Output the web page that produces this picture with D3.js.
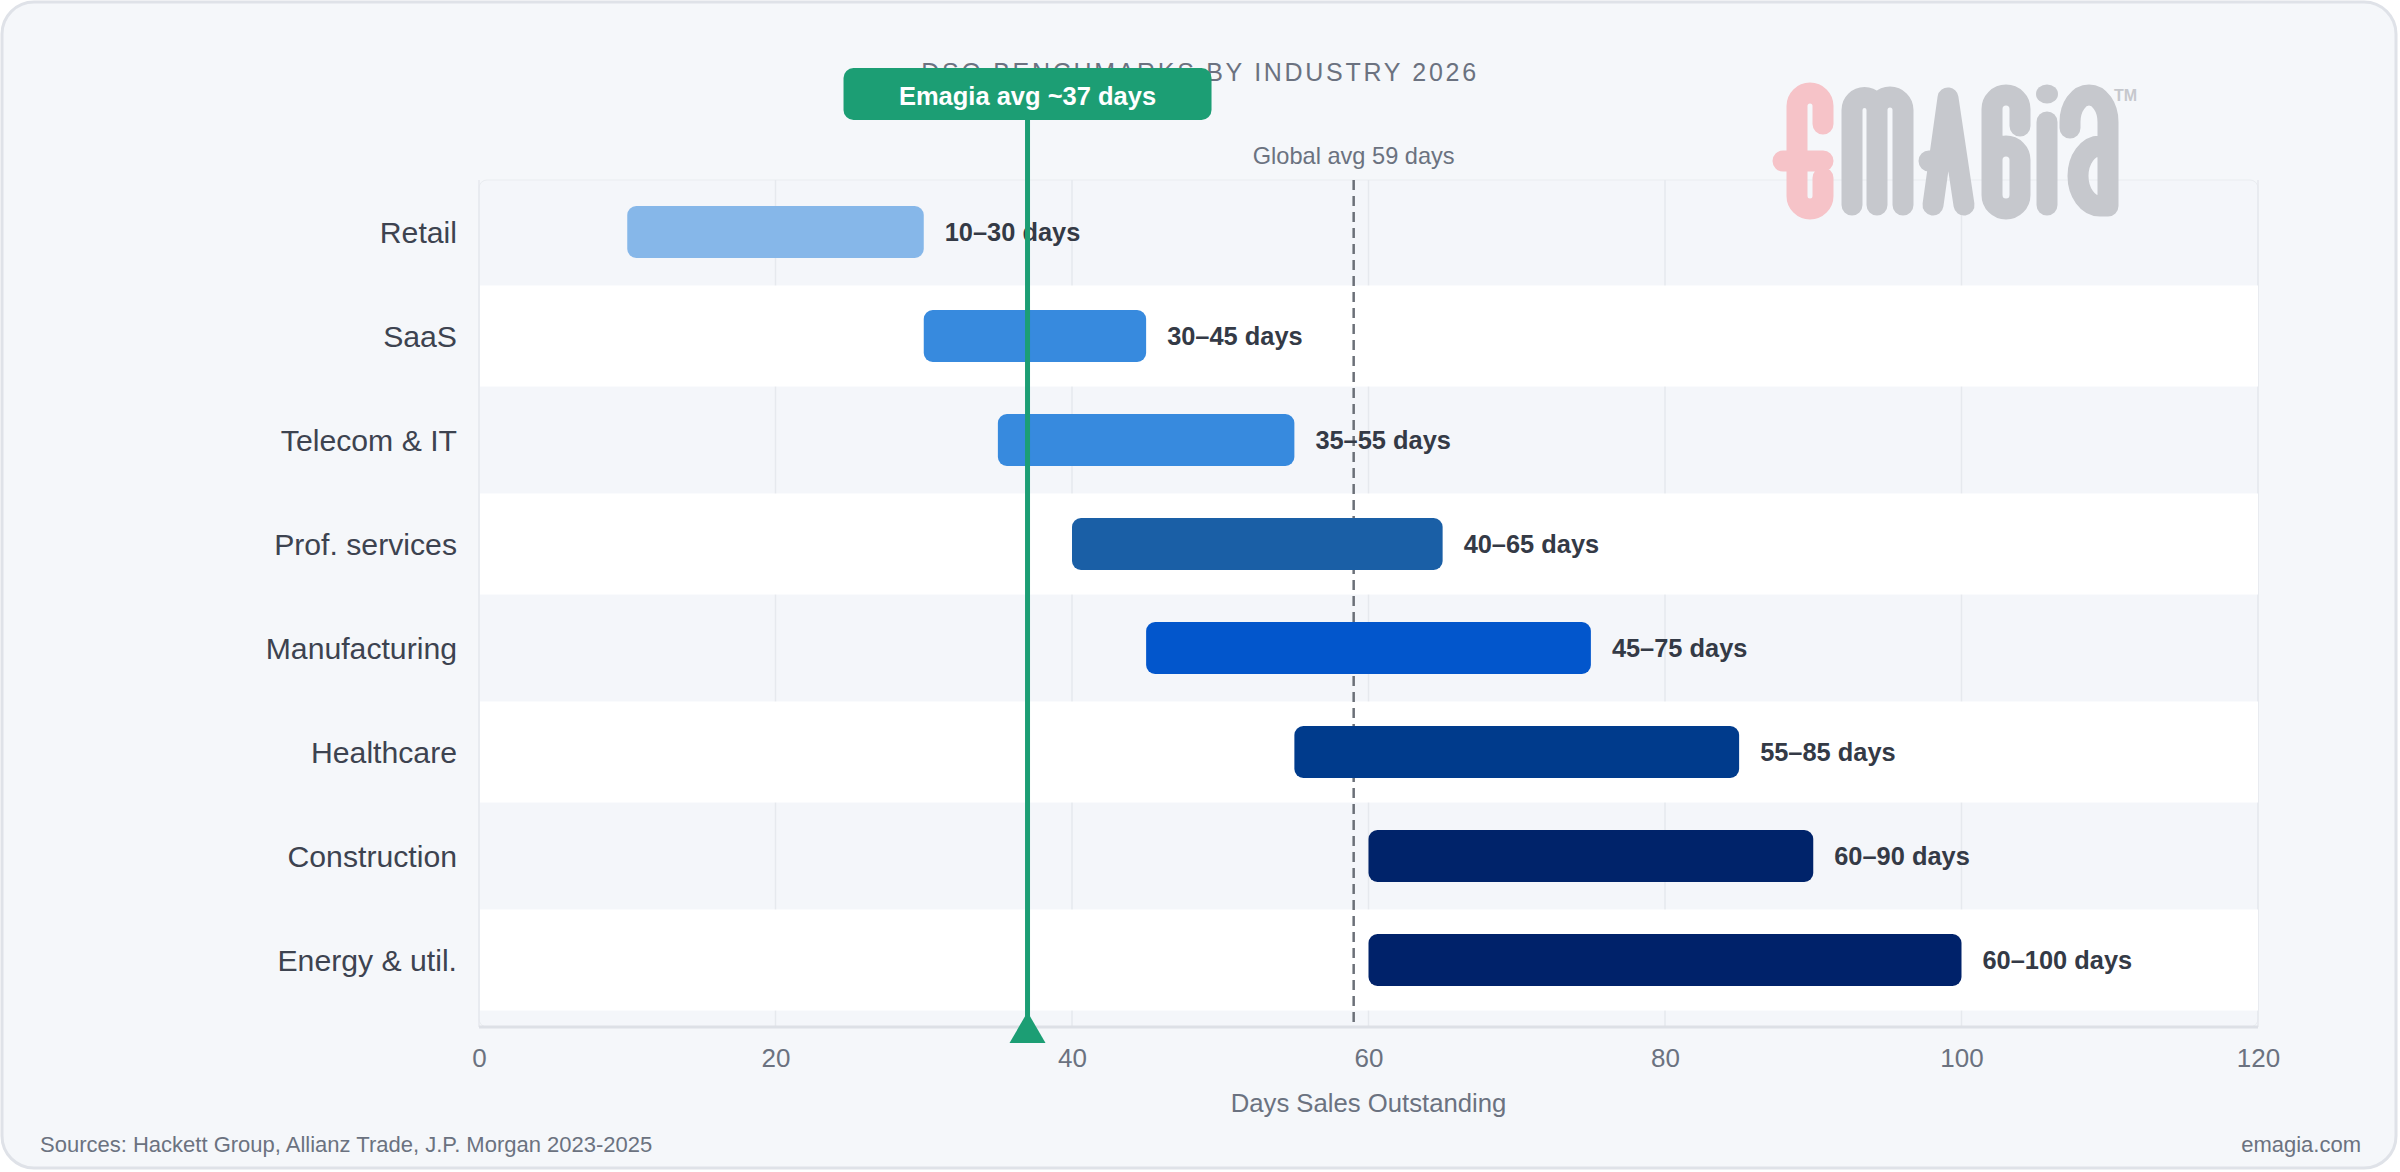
<!DOCTYPE html>
<html>
<head>
<meta charset="utf-8">
<script src="https://cdn.jsdelivr.net/npm/d3@7"></script>
<style>
  html, body { margin: 0; padding: 0; background: #ffffff; }
  svg { display: block; font-family: "Liberation Sans", Arial, sans-serif; }
</style>
</head>
<body>
<svg id="chart" width="2400" height="1172"></svg>
<script>
// ---------- data ----------
const categories = ["Retail", "SaaS", "Telecom & IT", "Prof. services", "Manufacturing", "Healthcare", "Construction", "Energy & util."];
const lowDays  = [10, 30, 35, 40, 45, 55, 60, 60];
const highDays = [30, 45, 55, 65, 75, 85, 90, 100];
const barColors = ["#86b7e9", "#378ade", "#378ade", "#1a5fa6", "#0256cc", "#003b8c", "#00236a", "#00226a"];
const xTicks = [0, 20, 40, 60, 80, 100, 120];
const emagiaAvg = 37;
const globalAvg = 59;
const titleText = "DSO BENCHMARKS BY INDUSTRY 2026";
const emagiaLabel = "Emagia avg ~37 days";
const globalLabel = "Global avg 59 days";
const xTitle = "Days Sales Outstanding";
const sourcesText = "Sources: Hackett Group, Allianz Trade, J.P. Morgan 2023-2025";
const siteText = "emagia.com";

// ---------- layout ----------
const svg = d3.select("#chart");
const plotL = 479, plotR = 2258, plotT = 180, rowsB = 1012, axisY = 1027;
const green = "#1c9e74";

// card
svg.append("rect").attr("x", 2).attr("y", 2).attr("width", 2394).attr("height", 1166)
  .attr("rx", 32).attr("fill", "#f5f7fa").attr("stroke", "#dfe2e8").attr("stroke-width", 3);

const x = d3.scaleLinear().domain([0, 120]).range([plotL, plotR]);
const yRow = d3.scaleBand().domain(categories).range([plotT, rowsB]).padding(0);
const y = d3.scaleBand().domain(categories).range([plotT, rowsB]).paddingInner(0.5).paddingOuter(0.25);

// plot background
svg.append("rect").attr("x", plotL).attr("y", plotT).attr("width", plotR - plotL).attr("height", axisY - plotT)
  .attr("rx", 8).attr("fill", "#f4f6fa").attr("stroke", "#e9ecf0").attr("stroke-width", 1);

// gridlines
svg.append("g").selectAll("line").data(xTicks).join("line")
  .attr("x1", d => x(d)).attr("x2", d => x(d))
  .attr("y1", plotT).attr("y2", axisY)
  .attr("stroke", "#e6e9ee").attr("stroke-width", 1.5);

// alternating row bands
svg.append("g").selectAll("rect").data(categories.filter((d, i) => i % 2 === 1)).join("rect")
  .attr("x", plotL + 1).attr("width", plotR - plotL - 1)
  .attr("y", d => yRow(d) + 1.5).attr("height", yRow.bandwidth() - 3)
  .attr("fill", "#ffffff");

// axis line
svg.append("line").attr("x1", plotL).attr("x2", plotR).attr("y1", axisY).attr("y2", axisY)
  .attr("stroke", "#dde0e6").attr("stroke-width", 3);

// x axis
const xAxis = svg.append("g").attr("transform", `translate(0,${axisY})`)
  .call(d3.axisBottom(x).tickValues(xTicks).tickSize(0).tickPadding(22));
xAxis.select(".domain").remove();
xAxis.selectAll("text").attr("font-size", 26).attr("fill", "#6b7280")
  .attr("font-family", "'Liberation Sans', Arial, sans-serif");

// y axis
const yAxis = svg.append("g").attr("transform", `translate(${plotL},0)`)
  .call(d3.axisLeft(yRow).tickSize(0).tickPadding(22));
yAxis.select(".domain").remove();
yAxis.selectAll("text").attr("font-size", 30.2).attr("fill", "#3d4350").attr("dy", "0.36em")
  .attr("font-family", "'Liberation Sans', Arial, sans-serif");

// global avg dashed line
svg.append("line").attr("x1", x(globalAvg)).attr("x2", x(globalAvg))
  .attr("y1", plotT).attr("y2", axisY)
  .attr("stroke", "#6b7078").attr("stroke-width", 2.5).attr("stroke-dasharray", "10,6");
svg.append("text").attr("x", x(globalAvg)).attr("y", 164).attr("text-anchor", "middle")
  .attr("font-size", 23.6).attr("fill", "#6b7280").text(globalLabel);

// bars
svg.append("g").selectAll("rect").data(categories).join("rect")
  .attr("x", (d, i) => x(lowDays[i]))
  .attr("width", (d, i) => x(highDays[i]) - x(lowDays[i]))
  .attr("y", d => y(d)).attr("height", y.bandwidth())
  .attr("rx", 9).attr("fill", (d, i) => barColors[i]);

// bar labels
svg.append("g").selectAll("text").data(categories).join("text")
  .attr("x", (d, i) => x(highDays[i]) + 21)
  .attr("y", d => y(d) + y.bandwidth() / 2)
  .attr("dy", "0.36em")
  .attr("font-size", 25.4).attr("font-weight", "bold").attr("fill", "#343a46")
  .text((d, i) => `${lowDays[i]}\u2013${highDays[i]} days`);

// title (under badge)
svg.append("text").attr("x", 1200).attr("y", 81).attr("text-anchor", "middle")
  .attr("font-size", 25).attr("letter-spacing", 2.7).attr("fill", "#6b7280").text(titleText);

// emagia avg line + marker
const ex = x(emagiaAvg);
svg.append("line").attr("x1", ex).attr("x2", ex).attr("y1", 118).attr("y2", 1020)
  .attr("stroke", green).attr("stroke-width", 5);
svg.append("path")
  .attr("d", `M${ex},1012 L${ex + 18},1043 L${ex - 18},1043 Z`)
  .attr("fill", green);
svg.append("rect").attr("x", ex - 184).attr("y", 68).attr("width", 368).attr("height", 52)
  .attr("rx", 10).attr("fill", green);
svg.append("text").attr("x", ex).attr("y", 105).attr("text-anchor", "middle")
  .attr("font-size", 25.5).attr("font-weight", "bold").attr("fill", "#ffffff").text(emagiaLabel);

// x title
svg.append("text").attr("x", (plotL + plotR) / 2).attr("y", 1112).attr("text-anchor", "middle")
  .attr("font-size", 25.7).attr("fill", "#6b7280").text(xTitle);

// footer
svg.append("text").attr("x", 40).attr("y", 1152).attr("font-size", 22).attr("fill", "#6b7280").text(sourcesText);
svg.append("text").attr("x", 2361).attr("y", 1152).attr("text-anchor", "end").attr("font-size", 22).attr("fill", "#6b7280").text(siteText);

// logo (decorative)
const logo = svg.append("g").attr("fill", "none").attr("stroke-linecap", "round").attr("stroke-linejoin", "round").attr("stroke-width", 21);
logo.append("path").attr("stroke", "#f6c3c8")
  .attr("d", "M1823,124 V106 A13,13 0 0 0 1797,106 V196 A13,13 0 0 0 1823,196 V178 M1783,161 H1823");
const grey = "#c6c8cd";
logo.append("path").attr("stroke", grey)
  .attr("d", "M1852,205 V110 A12.5,12.5 0 0 1 1877,110 V205 M1877,110 A13,13 0 0 1 1903,110 V205");
logo.append("path").attr("stroke", grey)
  .attr("d", "M1933,205 L1948,98 L1964,205 M1929,161 H1952");
logo.append("path").attr("stroke", grey)
  .attr("d", "M2020,126 V109 A14,14 0 0 0 1992,109 V195 A14,14 0 0 0 2020,195 V160 A14,14 0 0 0 1992,160");
logo.append("path").attr("stroke", grey).attr("d", "M2047,122 V205");
svg.append("ellipse").attr("cx", 2047).attr("cy", 94).attr("rx", 11).attr("ry", 9.5).attr("fill", grey);
logo.append("path").attr("stroke", grey)
  .attr("d", "M2070,128 V122 A19,27 0 0 1 2108,122 V206 M2108,146 H2100 A22,30 0 0 0 2100,206 H2108");
svg.append("text").attr("x", 2114).attr("y", 101).attr("font-size", 16).attr("font-weight", "bold")
  .attr("fill", grey).text("TM");
</script>
</body>
</html>
